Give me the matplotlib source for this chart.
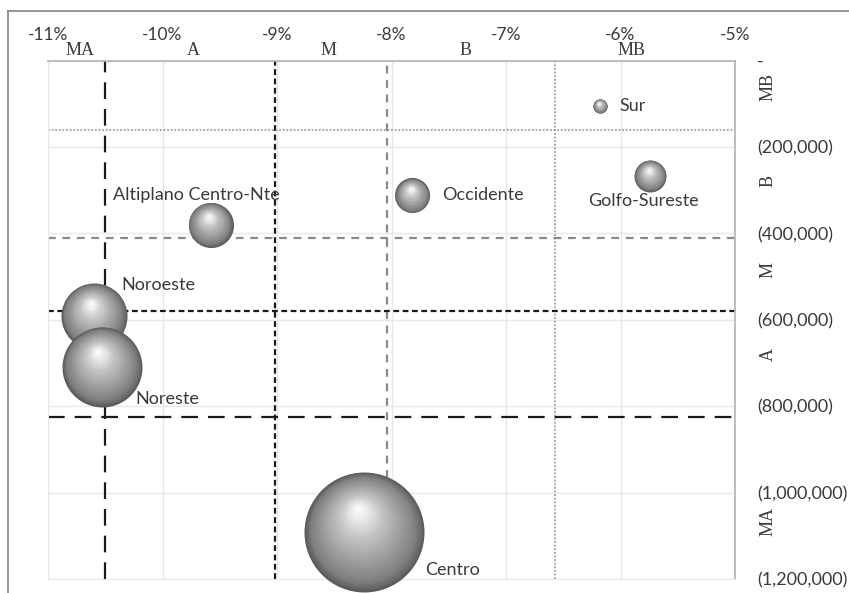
import numpy as np
import matplotlib
matplotlib.use("Agg")
import matplotlib.pyplot as plt
from matplotlib.lines import Line2D
from matplotlib.transforms import offset_copy
from matplotlib.ticker import FuncFormatter

# regiones: variacion (%) contra monto (negativo) y tamano de burbuja
regiones = ["Sur", "Golfo-Sureste", "Occidente", "Altiplano Centro-Nte",
            "Noroeste", "Noreste", "Centro"]
variacion = [-6.18, -5.74, -7.82, -9.58, -10.60, -10.53, -8.24]
monto = [-105000, -267000, -312000, -380000, -591000, -709000, -1091000]
tamano = [1.4, 7.1, 8.5, 14.1, 30.3, 44.4, 100.0]

# cortes de los estratos (MA, A, M, B, MB)
cortes_x = [-10.5, -9.02, -8.04, -6.57]
cortes_y = [-160000, -410000, -580000, -825000]
estratos = ["MA", "A", "M", "B", "MB"]

# donde va cada nombre de estrato sobre cada eje
estrato_x = [-10.72, -9.73, -8.55, -7.35, -5.90]
estrato_y = [-1066000, -681000, -485000, -279000, -61000]

# desplazamiento de cada etiqueta en pixeles (dx, dy, alineacion)
pos_etiqueta = [(20, 0, "left"), (-7, -25, "center"), (30, 0, "left"),
                (-14, 30, "center"), (28, 31, "left"), (34, -32, "left"),
                (61, -38, "left")]

plt.rcParams["font.family"] = ["Lato", "DejaVu Sans"]
texto = "#3a3a3a"

fig = plt.figure(figsize=(8.49, 5.93), dpi=100)
ax = fig.add_axes([48 / 849, 1 - 579 / 593, (735 - 48) / 849, (579 - 60.6) / 593])
ax.set_xlim(-11, -5)
ax.set_ylim(-1200000, 0)

# rejilla y ejes
ax.set_xticks(np.arange(-11, -4.9, 1))
ax.set_yticks(np.arange(-1200000, 1, 200000))
ax.grid(True, color="#e8e8e8", lw=1, zorder=0)
ax.set_axisbelow(True)
for lado in ["left", "bottom"]:
    ax.spines[lado].set_color("#e8e8e8")
for lado in ["top", "right"]:
    ax.spines[lado].set_color("#b4b4b4")
    ax.spines[lado].set_linewidth(1.2)
ax.xaxis.tick_top()
ax.yaxis.tick_right()
ax.tick_params(axis="x", length=0, pad=13, labelsize=12.5, labelcolor=texto)
ax.tick_params(axis="y", length=0, pad=16, labelsize=13, labelcolor=texto)
ax.xaxis.set_major_formatter(FuncFormatter(lambda v, p: f"{v:.0f}%"))


def contable(v, p):
    if v == 0:
        return "-"
    return f"({abs(v):,.0f})"


ax.yaxis.set_major_formatter(FuncFormatter(contable))
for lbl in ax.get_yticklabels():
    lbl.set_horizontalalignment("left")

# lineas de corte
estilos = [
    dict(color="#1a1a1a", lw=1.6, dashes=(7.5, 4.5)),
    dict(color="#1a1a1a", lw=1.6, dashes=(2.6, 1.6)),
    dict(color="#8a8a8a", lw=1.6, dashes=(3.5, 3.0)),
    dict(color="#a0a0a0", lw=1.3, dashes=(1.0, 1.0)),
]
for cx, est in zip(cortes_x, estilos):
    ax.axvline(cx, zorder=2, **est)
for cy, est in zip(cortes_y, estilos[::-1]):
    ax.axhline(cy, zorder=2, **est)

# etiquetas de estratos arriba y a la derecha
for e, xm, ym in zip(estratos, estrato_x, estrato_y):
    ax.annotate(e, (xm, 1.0), xycoords=("data", "axes fraction"),
                xytext=(0, 10.5), textcoords="offset pixels", ha="center",
                va="center", family="Liberation Serif", fontsize=13,
                color=texto)
    ax.text(1.048, ym, e, transform=ax.get_yaxis_transform(), ha="center",
            va="center", rotation=90, family="Liberation Serif",
            fontsize=13, color=texto)

# burbujas con sombreado de esfera
escala = 8.64  # puntos de diametro por raiz de tamano
grises = [(0.0, 0.36), (0.12, 0.50), (0.35, 0.62), (0.65, 0.78),
          (0.85, 0.92), (1.0, 1.0)]
gt = [g[0] for g in grises]
gv = [g[1] for g in grises]
n_capas = 40
for k, (x, y, t) in enumerate(zip(variacion, monto, tamano)):
    d = escala * np.sqrt(t)
    r = d / 2
    for i in range(n_capas):
        f = i / n_capas
        g = np.interp(f, gt, gv)
        tr = offset_copy(ax.transData, fig=fig, x=-0.1 * r * f,
                         y=0.4 * r * f, units="points")
        ax.scatter([x], [y], s=(d * (1 - f)) ** 2, color=(g, g, g),
                   lw=0, transform=tr, zorder=5 + k, clip_on=False)
    dx, dy, ha = pos_etiqueta[k]
    ax.annotate(regiones[k], (x, y), xytext=(dx, dy),
                textcoords="offset pixels", ha=ha, va="center",
                fontsize=13, color=texto, zorder=20)

# marco exterior del grafico
fig.add_artist(Line2D([8 / 849, 8 / 849], [0, 1 - 11 / 593],
                      transform=fig.transFigure, color="#8c8c8c", lw=1.3))
fig.add_artist(Line2D([8 / 849, 1], [1 - 11 / 593, 1 - 11 / 593],
                      transform=fig.transFigure, color="#8c8c8c", lw=1.3))

fig.savefig("out.png", dpi=100)
